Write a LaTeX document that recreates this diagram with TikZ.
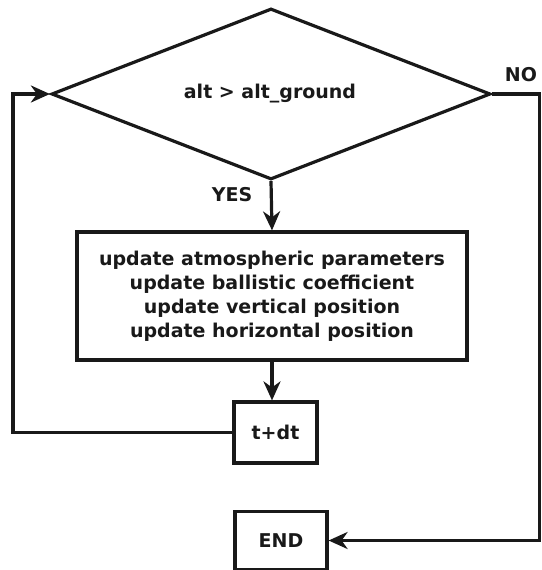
\documentclass[tikz,border=0pt]{standalone}
\usepackage{fontspec}
\setmainfont{DejaVu Sans}
\usetikzlibrary{shapes.geometric,arrows.meta}
\begin{document}
\begin{tikzpicture}[x=1pt,y=-1pt,
  every node/.style={font=\bfseries\fontsize{19}{24}\selectfont, text=black!90},
  shp/.style={draw=black!90, line width=3.2pt, inner sep=0pt, align=center},
  ln/.style={draw=black!90, line width=3.2pt},
  arr/.style={ln, -{Stealth[length=19pt,width=17pt,inset=6pt]}}]
\useasboundingbox (0,0) rectangle (541,570);
\node[shp, diamond, minimum width=439pt, minimum height=171pt] (d) at (271,94) {};
\node (dl) at (270,94) {alt > alt\_ground};
\node[shp, rectangle, minimum width=390pt, minimum height=128pt] (box) at (272,296)
  {update atmospheric parameters\\update ballistic coefficient\\update vertical position\\update horizontal position};
\node[shp, rectangle, minimum width=83pt, minimum height=61pt] (tdt) at (275.5,432.5) {t+dt};
\node[shp, rectangle, minimum width=92pt, minimum height=58pt] (endn) at (281,540.5) {END};
\node (yes) at (232,195) {YES};
\node (no) at (521,75) {NO};
\coordinate (lx) at (13,0);
\coordinate (rx) at (539.5,0);
\draw[arr] (d.south) -- (box.north);
\draw[arr] (box.south) -- (box.south |- tdt.north);
\draw[arr] (tdt.west) -- (tdt.west -| lx) |- (d.west);
\draw[arr] (d.east) -- (d.east -| rx) |- (endn.east);
\end{tikzpicture}
\end{document}
